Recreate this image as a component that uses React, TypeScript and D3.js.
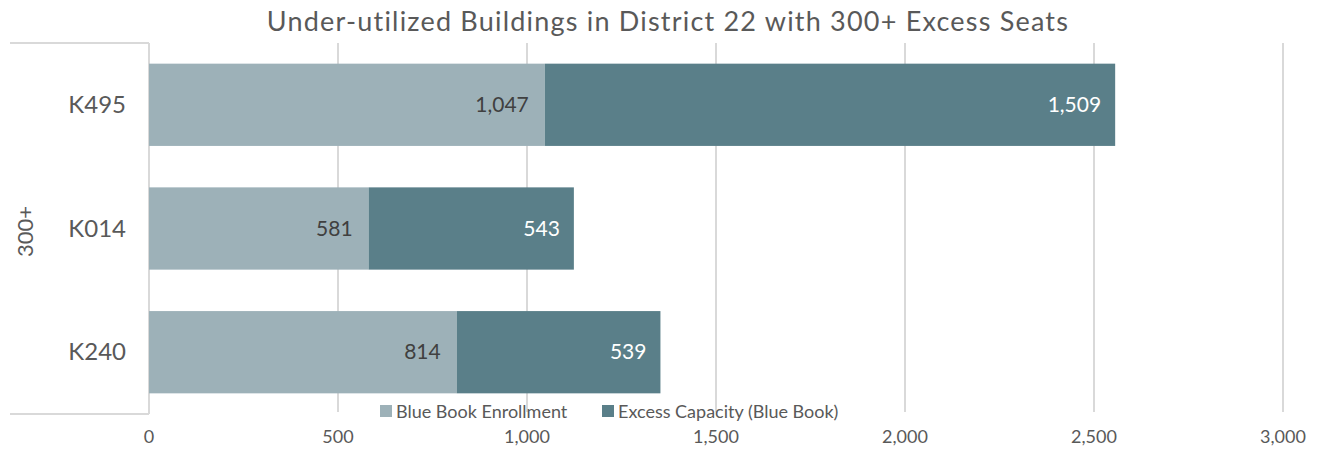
import React from "react";
import * as d3 from "d3";

const categories = ["K495", "K014", "K240"];
const enrollment = [1047, 581, 814];
const excess = [1509, 543, 539];
const xTicks = [0, 500, 1000, 1500, 2000, 2500, 3000];
const seriesNames = ["Blue Book Enrollment", "Excess Capacity (Blue Book)"];
const groupLabel = "300+";
const title = "Under-utilized Buildings in District 22 with 300+ Excess Seats";

const W = 1324;
const H = 455;
const left = 149;
const right = 1283;
const top = 43;
const bottom = 414;
const colors = ["#9DB1B8", "#5A7F89"];
const font = "Lato, 'Open Sans', sans-serif";
const fmt = d3.format(",");

export default function App() {
  const x = d3.scaleLinear().domain([0, 3000]).range([left, right]);
  const y = d3.scaleBand().domain(categories).range([top, bottom]).paddingInner(0.335).paddingOuter(0.167);
  const bh = y.bandwidth();
  return (
    <svg width={W} height={H} style={{ position: "absolute", left: 0, top: 0, background: "#fff" }}>
      <text x={668} y={31} textAnchor="middle" fontFamily={font} fontSize={27} letterSpacing={1.2} fill="#595959">{title}</text>
      {xTicks.map((t) => (
        <g key={t}>
          {t > 0 && <line x1={x(t)} x2={x(t)} y1={top} y2={bottom - 2} stroke="#D9D9D9" strokeWidth={2} />}
          <text x={x(t)} y={443} textAnchor="middle" fontFamily={font} fontSize={18} fill="#595959">{fmt(t)}</text>
        </g>
      ))}
      <line x1={left} x2={left} y1={top} y2={bottom} stroke="#D9D9D9" strokeWidth={2} />
      <line x1={10} x2={left} y1={top} y2={top} stroke="#D9D9D9" strokeWidth={2} />
      <line x1={10} x2={left} y1={bottom} y2={bottom} stroke="#D9D9D9" strokeWidth={2} />
      {categories.map((c, i) => {
        const yy = y(c)!;
        const e = enrollment[i];
        const ex = excess[i];
        return (
          <g key={c}>
            <rect x={x(0)} y={yy} width={x(e) - x(0)} height={bh} fill={colors[0]} />
            <rect x={x(e)} y={yy} width={x(e + ex) - x(e)} height={bh} fill={colors[1]} />
            <text x={x(e) - 16} y={yy + bh / 2 + 7} textAnchor="end" fontFamily={font} fontSize={21} fill="#404040">{fmt(e)}</text>
            <text x={x(e + ex) - 14} y={yy + bh / 2 + 7} textAnchor="end" fontFamily={font} fontSize={21} fill="#ffffff">{fmt(ex)}</text>
            <text x={126} y={yy + bh / 2 + 8} textAnchor="end" fontFamily={font} fontSize={24} fill="#595959">{c}</text>
          </g>
        );
      })}
      <text transform={`translate(33,${(top + bottom) / 2 + 3}) rotate(-90)`} textAnchor="middle" fontFamily={font} fontSize={22} fill="#595959">{groupLabel}</text>
      <g>
        <rect x={380} y={405} width={12} height={12} fill={colors[0]} />
        <text x={396} y={418} fontFamily={font} fontSize={18} fill="#595959">{seriesNames[0]}</text>
        <rect x={602} y={405} width={12} height={12} fill={colors[1]} />
        <text x={618} y={418} fontFamily={font} fontSize={18} fill="#595959">{seriesNames[1]}</text>
      </g>
    </svg>
  );
}
